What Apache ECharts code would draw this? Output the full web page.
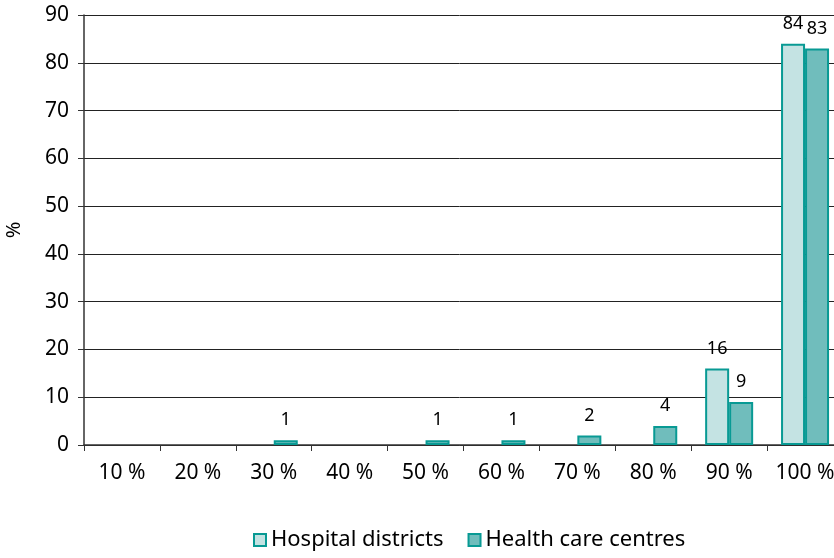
<!DOCTYPE html>
<html><head><meta charset="utf-8">
<script src="https://cdn.jsdelivr.net/npm/echarts@6/dist/echarts.min.js"></script>
<style>html,body{margin:0;padding:0;background:#fff}#c{width:834px;height:558px}</style>
</head><body><div id="c"></div>
<script>
const categories = ['10 %','20 %','30 %','40 %','50 %','60 %','70 %','80 %','90 %','100 %'];
const hospitalDistricts = [0,0,0,0,0,0,0,0,16,84];
const healthCareCentres = [0,0,1,0,1,1,2,4,9,83];
const seriesNames = ['Hospital districts','Health care centres'];
const yTicks = {min:0,max:90,interval:10};

const chart = echarts.init(document.getElementById('c'));
const FONT = 'Noto Sans';
const toData = arr => arr.map(v => v === 0 ? null : v);
const mk = (name, data, color) => ({
  name, type:'bar', data: toData(data), barWidth:24, barGap:'0%',
  itemStyle:{color, borderColor:'#089a94', borderWidth:2},
  label:{show:true, position:'top', distance:11, color:'#000', fontFamily:FONT, fontSize:18},
  emphasis:{disabled:true}
});
chart.setOption({
  animation:false,
  textStyle:{fontFamily:FONT},
  grid:{left:84, top:15, width:759, height:430, containLabel:false, outerBoundsMode:'none'},
  legend:{bottom:2, left:248, itemWidth:12, itemHeight:12, itemGap:24,
    icon:'rect', textStyle:{fontFamily:FONT, fontSize:22, color:'#000'},
    data:seriesNames},
  xAxis:{type:'category', data:categories, boundaryGap:true,
    axisLine:{lineStyle:{color:'#333', width:1.5}},
    axisTick:{show:true, interval:0, alignWithLabel:false, length:6, lineStyle:{color:'#333'}},
    axisLabel:{interval:0, hideOverlap:false, color:'#000', fontSize:21, fontFamily:FONT, margin:18}},
  yAxis:{type:'value', min:yTicks.min, max:yTicks.max, interval:yTicks.interval,
    name:'%', nameLocation:'middle', nameGap:60, nameRotate:90,
    nameTextStyle:{color:'#000', fontSize:20, fontFamily:FONT},
    axisLine:{show:true, lineStyle:{color:'#333', width:1.5}},
    axisTick:{show:true, length:6, lineStyle:{color:'#333'}},
    axisLabel:{color:'#000', fontSize:21, fontFamily:FONT, margin:15},
    splitLine:{lineStyle:{color:'#222', width:1}}},
  series:[
    mk(seriesNames[0], hospitalDistricts, '#c4e3e3'),
    mk(seriesNames[1], healthCareCentres, '#70bdbc')
  ]
});
</script></body></html>
